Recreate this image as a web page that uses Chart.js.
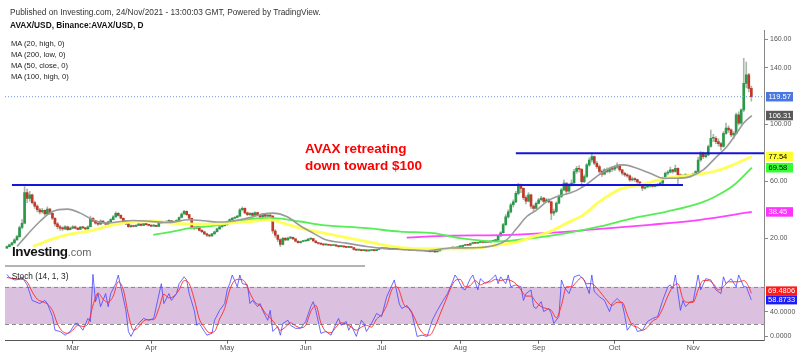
<!DOCTYPE html>
<html><head><meta charset="utf-8">
<script src="https://cdn.jsdelivr.net/npm/chart.js@4.4.0/dist/chart.umd.min.js"></script>
<style>
html,body{margin:0;padding:0;background:#fff;}
#wrap{position:relative;width:800px;height:356px;overflow:hidden;font-family:"Liberation Sans",Arial,sans-serif;background:#fff;}
canvas{position:absolute;left:0;}
#c1{top:0;}
#c2{top:266px;}
.t{position:absolute;white-space:nowrap;line-height:1;}
</style></head><body>
<div id="wrap">
<canvas id="c1" width="800" height="272"></canvas>
<canvas id="c2" width="800" height="90"></canvas>
<div class="t" style="left:10px;top:7.6px;font-size:8.3px;color:#333">Published on Investing.com, 24/Nov/2021 - 13:00:03 GMT, Powered by TradingView.</div>
<div class="t" style="left:10px;top:20.9px;font-size:8.3px;font-weight:bold;color:#111">AVAX/USD, Binance:AVAX/USD, D</div>
<div class="t" style="left:11px;top:39.6px;font-size:7.6px;color:#222">MA (20, high, 0)</div>
<div class="t" style="left:11px;top:50.6px;font-size:7.6px;color:#222">MA (200, low, 0)</div>
<div class="t" style="left:11px;top:62px;font-size:7.6px;color:#222">MA (50, close, 0)</div>
<div class="t" style="left:11px;top:73px;font-size:7.6px;color:#222">MA (100, high, 0)</div>
<div class="t" style="left:305px;top:140px;text-align:left;font-size:13.5px;font-weight:bold;color:#ff0000;line-height:17px">AVAX retreating<br>down toward $100</div>
<div class="t" style="left:12px;top:245px;font-size:13.5px;font-weight:bold;color:#111;letter-spacing:-0.4px">Investing<span style="font-weight:normal;font-size:11px;color:#666;letter-spacing:0">.com</span></div>
<div style="position:absolute;left:5px;top:265px;width:360px;height:1.5px;background:#b4b4b4"></div>
<div class="t" style="left:11.7px;top:271.6px;font-size:8.3px;color:#222">Stoch (14, 1, 3)</div>
</div>
<script>
// ---------- data ----------
const firstDay = 2;          // day index (0 = 1 Feb 2021) of first candle
const firstOpen = 13.0;
const closes = [
14.0,15.2,16.6,18.8,21.0,27.5,30.5,52.0,48.0,50.5,
45.0,42.5,40.0,38.5,39.5,37.0,40.5,37.5,34.0,30.0,
28.0,27.0,26.5,28.0,26.0,27.0,28.0,27.0,26.2,27.8,
27.2,26.5,28.0,34.0,32.0,30.5,29.8,32.0,30.8,29.8,
31.5,33.0,35.0,37.5,36.0,34.0,32.0,30.0,28.0,28.8,
28.2,29.0,29.8,29.0,30.0,29.5,29.0,28.5,29.0,28.3,
30.5,31.5,30.8,31.8,32.2,31.0,31.8,32.5,34.5,37.0,
38.8,36.5,34.0,27.5,27.0,28.0,25.5,24.5,23.0,22.0,
21.5,23.0,24.5,26.5,28.0,28.8,29.5,31.5,33.0,34.0,
34.5,35.5,40.0,41.0,37.8,36.5,37.5,36.0,38.0,36.5,
35.0,37.0,35.5,36.0,35.5,25.0,22.0,19.0,15.5,19.8,
18.8,20.0,20.5,19.5,17.8,16.8,17.6,18.0,18.2,19.3,
19.6,18.0,16.8,16.2,15.8,15.2,15.5,15.0,14.8,15.0,
14.5,14.0,14.2,13.8,13.5,14.0,13.4,12.0,11.6,11.8,
11.2,11.5,11.0,11.3,11.6,11.2,12.0,12.6,13.0,12.5,
12.8,12.3,12.5,13.0,12.6,12.2,12.4,11.8,12.0,11.6,
11.9,11.4,11.2,11.6,11.3,11.0,10.8,10.4,10.6,10.3,
11.0,11.8,12.2,12.0,12.6,13.0,13.4,13.0,13.8,14.2,
14.8,15.3,15.0,16.2,16.8,16.4,17.0,17.3,16.9,17.6,
17.2,17.8,18.2,18.6,21.5,23.8,29.5,35.0,38.5,43.5,
45.5,51.5,56.5,55.0,48.5,46.0,50.5,42.5,41.0,44.5,
47.0,48.2,45.8,47.0,45.5,37.6,38.8,44.6,49.3,54.0,
58.7,53.0,57.5,58.8,66.9,69.2,68.5,59.8,63.4,71.6,
75.0,77.5,72.7,70.4,67.0,65.0,68.0,67.0,69.0,68.5,
70.0,71.5,68.0,65.7,64.5,63.8,61.0,61.8,61.2,59.5,
57.5,55.2,56.0,56.5,57.0,56.4,57.2,57.8,58.7,62.2,
65.7,66.5,68.0,66.9,69.2,64.5,63.4,64.0,64.5,63.4,
64.5,65.0,66.9,75.0,79.8,77.4,78.6,84.5,90.3,90.3,
88.0,86.5,84.5,93.8,97.4,96.2,92.7,93.8,106.8,100.9,
110.3,129.0,135.0,125.5,119.57];
const highs = [
14.6,15.8,17.2,19.6,22.0,28.5,33.0,56.3,54.5,53.0,
51.0,46.0,43.5,41.0,41.0,40.0,42.0,41.0,38.0,34.5,
31.0,29.0,28.0,28.8,28.5,27.8,28.8,28.6,27.5,28.3,
28.3,27.6,28.6,35.5,34.5,32.5,31.0,32.8,32.4,31.2,
32.0,33.8,35.8,38.5,38.0,36.4,34.3,32.4,30.4,29.4,
29.2,29.5,30.4,30.0,30.5,30.4,29.8,29.4,29.5,29.2,
31.0,32.2,31.8,32.3,32.8,32.5,32.2,33.0,35.0,37.8,
39.5,39.2,36.8,34.2,28.5,28.5,28.3,26.0,25.0,23.5,
22.6,23.4,25.0,27.0,28.6,29.4,30.0,32.0,33.6,34.6,
35.2,36.0,40.8,42.0,41.3,38.4,38.0,38.0,38.6,38.4,
36.8,37.5,37.3,36.6,36.5,35.8,26.0,22.5,19.5,20.5,
20.5,20.8,21.2,20.8,19.7,18.2,18.0,18.5,18.6,19.8,
20.2,19.8,18.2,17.0,16.5,16.0,15.8,15.8,15.3,15.3,
15.2,14.7,14.5,14.4,14.0,14.3,14.1,13.5,12.3,12.1,
11.9,11.8,11.6,11.6,11.9,11.8,12.3,12.9,13.4,13.1,
13.1,12.9,12.8,13.3,13.1,12.7,12.7,12.5,12.2,12.1,
12.1,12.0,11.6,11.8,11.7,11.4,11.1,10.9,10.8,10.7,
11.2,12.0,12.5,12.4,12.8,13.3,13.8,13.6,14.0,14.6,
15.1,15.6,15.5,16.5,17.1,17.0,17.3,17.7,17.5,17.9,
17.8,18.1,18.6,19.0,22.0,24.6,30.5,36.5,40.0,44.5,
47.0,53.0,58.5,58.0,55.5,50.0,52.0,51.0,43.5,45.5,
48.0,49.5,48.8,48.0,47.8,46.0,40.5,45.5,50.5,55.0,
61.0,59.0,58.5,61.0,68.5,70.5,71.0,69.0,64.5,72.5,
76.5,80.0,78.0,74.0,71.5,68.0,69.0,69.5,70.0,70.5,
71.0,73.0,72.0,68.5,66.5,65.5,64.5,63.0,62.5,61.5,
60.0,58.0,56.8,57.5,58.0,57.6,58.0,58.5,59.5,63.0,
66.5,67.5,70.0,68.5,71.5,69.5,65.2,64.8,65.5,65.0,
65.0,65.8,67.5,77.0,81.0,80.5,80.0,85.5,96.0,93.0,
91.5,90.0,87.5,95.0,101.0,99.0,97.0,95.0,108.0,109.0,
111.0,146.6,144.0,136.0,127.0];
const lows = [
12.8,13.8,15.0,16.4,18.5,20.5,26.5,30.0,45.0,46.0,
44.0,41.0,38.5,37.0,37.5,36.0,36.5,36.5,33.0,28.5,
26.5,25.5,25.5,26.0,25.5,25.8,26.5,26.5,25.8,26.0,
26.8,26.0,26.3,27.8,31.5,29.8,29.0,29.5,30.2,29.2,
29.5,31.2,32.8,34.8,35.5,33.5,31.5,29.5,27.5,27.6,
27.8,28.0,28.8,28.6,28.8,29.2,28.6,28.1,28.2,28.0,
28.2,30.2,30.4,30.6,31.5,30.6,30.8,31.5,32.3,34.2,
36.8,36.0,33.5,26.5,26.0,26.5,25.0,23.8,22.5,21.0,
20.8,21.2,22.8,24.2,26.2,27.6,28.4,29.2,31.2,32.5,
33.6,34.2,35.2,39.2,37.0,35.8,36.0,35.4,35.8,36.0,
34.5,34.8,35.0,35.0,34.8,23.5,20.5,17.5,14.0,15.2,
18.2,18.4,19.6,19.1,17.4,16.4,16.5,17.3,17.7,18.0,
19.0,17.6,16.5,15.8,15.4,14.8,15.0,14.7,14.5,14.6,
14.2,13.7,13.8,13.5,13.2,13.3,13.1,11.6,11.2,11.3,
10.9,11.0,10.7,10.8,11.1,11.0,11.1,11.8,12.4,12.2,
12.3,12.1,12.1,12.3,12.4,12.0,12.0,11.6,11.6,11.4,
11.4,11.2,10.9,11.0,11.1,10.8,10.5,10.1,10.2,10.0,
10.2,10.9,11.6,11.8,11.9,12.4,12.8,12.8,12.9,13.6,
14.0,14.6,14.7,14.9,16.0,16.1,16.2,16.8,16.6,16.8,
17.0,17.1,17.6,18.0,18.4,21.2,23.5,29.0,34.0,37.5,
42.0,45.0,50.5,52.0,47.0,44.0,45.5,41.0,39.0,40.5,
44.0,46.0,45.0,45.2,44.8,33.0,36.0,38.0,44.0,48.5,
53.5,51.0,52.5,56.5,58.0,65.5,66.5,56.0,59.0,62.5,
70.5,73.5,71.5,69.0,65.5,63.5,64.5,66.0,66.0,67.0,
67.5,69.0,67.0,64.5,63.5,62.8,60.0,60.2,60.0,58.5,
56.5,53.5,54.5,55.5,55.8,55.8,56.0,56.5,57.0,58.2,
61.5,64.5,66.0,65.8,66.5,57.5,62.4,62.8,63.2,62.6,
63.0,63.8,64.5,66.5,74.0,76.0,76.5,78.0,84.0,88.0,
86.5,85.0,82.0,84.0,93.0,94.5,91.5,90.0,93.5,99.5,
100.0,109.0,126.0,123.0,116.5];

// moving averages (day index, value)
const ma20Days  = [6,10,15,20,26,31,36,41,47,52,58.5,66,74,80,85,90,98,103,107,112.5,118,123,128,136,144,152,160,168,177,189,195.5,199.4,203.4,207.3,211.3,215.2,219.2,224.4,229.7,234.9,240.2,245.5,250.8,256,261.3,266.5,271.8,277,282.3,286.3,290.2,292.9,296.2];
const ma20Vals  = [14.1,22.3,31.7,38.7,40.4,37.6,32.9,30.6,31.7,32.4,31.8,31.0,32.9,32.2,31.3,31.7,34.5,36.9,37.6,35.2,28.5,23.5,18.8,16.5,14.1,12.5,11.8,11.1,13.0,13.4,15.3,18.8,27.0,35.2,39.9,45.7,49.3,51.7,56.3,63.3,69.2,71.6,69.2,65.7,62.2,62.2,63.3,68.0,77.4,84.4,93.9,100.9,106.31];
const ma50Days  = [12.3,19,25.6,34.8,44,51.9,58.5,66.4,78.3,90.1,98,105.9,111.2,117.8,130.8,144.1,154.6,163.9,177,184.9,196.8,203.4,209.9,216.5,223.1,229.7,236.3,244.2,252,262.6,273.1,281,288.9,296.2];
const ma50Vals  = [14.1,18.8,22.3,25.1,29.4,31.7,32.2,30.6,29.8,30.6,31.7,32.9,30.6,27.0,22.3,17.6,14.1,12.5,12.5,12.5,15.5,17.2,21.1,24.6,30.6,36.4,46.0,54.5,57.5,62.2,64.5,66.9,71.6,77.54];
const ma100Days = [59.8,66.4,74.3,84.9,92.8,102,107.2,117.8,125.7,144.1,157.3,170.4,181,195.5,209.9,223.1,236.3,249.4,262.6,275.7,282,288.9,296.2];
const ma100Vals = [22.3,24.2,27.0,28.9,31.7,34.1,34.1,31.7,29.4,27.0,24.6,23.5,20.0,17.6,20.0,23.5,28.2,34.1,38.7,44.6,49.5,57.0,69.58];
const ma200Days = [159.9,177,196.8,216.5,236.3,256,275.7,296.2];
const ma200Vals = [20.4,21.8,22.1,23.7,26.5,29.4,32.9,38.45];

// horizontal support / resistance lines
const lineDays1 = [4,269];   const lineLevel1 = 57.4;
const lineDays2 = [203,301]; const lineLevel2 = 79.8;
const lastPrice = 119.57;

// price axis ticks and last-value tags
const priceTicks = [20,60,100,140,160];
const tagValues = [119.57,106.31,77.54,69.58,38.45];
const tagColors = ['#4a78e0','#5a5a5a','#ffff33','#33ff33','#ff33ff'];
const tagText   = ['#fff','#fff','#000','#000','#fff'];

// stochastic (day index, value)
const kDays = [2,3,5,7,8,10,12,15,17,18,20,21,23,25,27,29,30,32,34,35,36,37,38,39,41,42,43,45,46,47,49,50,51,53,54,56,58,60,61,63,64,66,67,69,70,72,73,74,76,77,78,80,81,83,84,86,88,89,90,91,93,94,95,97,98,99,101,102,103,105,106,107,109,110,111,113,114,116,118,120,122,123,124,126,128,130,132,133,134,136,137,138,140,142,143,144,146,148,150,152,155,157,158,160,162,164,166,168,170,172,174,176,178,179,180,182,183,185,186,188,189,191,193,195,196,197,199,200,201,203,205,206,207,209,210,211,213,214,216,217,218,220,221,222,224,225,226,228,230,232,233,234,236,238,240,241,243,245,246,247,249,250,251,253,255,257,259,261,263,264,265,266,268,269,270,272,273,275,276,278,280,282,284,285,286,288,290,291,293,294,296];
const kVals = [100,95,91,92,96,83,58,53,58,53,32,10,8,2,8,21,21,10,29,24,100,56,69,48,69,48,69,85,99,80,42,8,0,16,21,29,26,29,48,85,53,69,58,69,85,96,91,69,42,18,21,8,2,5,26,42,53,75,85,99,80,99,85,83,53,58,48,53,42,26,42,8,16,2,21,26,18,13,13,24,48,56,42,5,8,2,21,29,18,24,10,18,0,26,21,8,21,37,32,64,91,52,45,50,37,0,2,0,26,42,56,69,88,99,93,77,75,93,99,75,93,85,91,99,85,96,85,99,80,83,80,58,69,75,48,45,56,40,45,37,21,32,91,80,69,80,96,99,91,69,99,72,64,58,40,53,61,53,34,10,21,18,8,10,24,29,32,58,80,83,77,99,42,58,48,56,56,99,75,93,91,75,69,96,85,93,80,99,80,80,58.87];
const dDays = [2,5,8,10,12,14,16,18,20,22,24,26,28,30,32,34,36,38,40,42,44,46,48,50,52,54,56,58,60,62,64,66,68,70,72,74,76,78,80,82,84,86,88,90,92,94,96,98,100,102,104,106,108,110,112,114,116,118,120,122,124,126,128,130,132,134,136,138,140,142,144,146,148,150,152,154,156,159,161,163,165,167,169,171,173,175,177,179,181,183,185,187,189,191,193,195,197,199,201,203,205,207,209,211,213,215,217,219,221,223,225,227,229,231,233,235,237,239,241,243,245,247,249,251,253,255,257,259,261,263,265,267,269,271,273,275,277,279,281,283,285,287,289,291,293,295,296];
const dVals = [95,93,92,88,72,60,56,52,42,20,8,5,10,18,16,20,50,70,60,55,65,88,75,35,10,15,25,27,27,45,68,62,65,75,90,85,60,28,15,6,8,28,45,75,90,92,88,70,55,50,38,30,20,10,15,22,17,14,18,40,50,22,8,6,15,22,20,15,10,15,18,15,28,35,50,75,80,50,45,30,12,3,2,15,35,55,75,90,92,80,82,90,83,87,88,92,90,92,90,85,75,65,65,55,48,45,42,30,50,80,80,88,95,85,85,78,68,58,50,55,55,35,18,15,10,15,25,30,45,65,80,85,60,55,55,75,90,90,85,75,80,88,88,88,90,80,69.48];
const stochTicks = [0,40];
const stochBand = [20,80];
const stochTags = [69.4806,58.8733];
const stochTagColors = ['#ff1a1a','#1a1aff'];

// x axis: month starts as day index
const monthDays = [28,59,89,120,150,181,212,242,273];
const monthNames = ['Mar','Apr','May','Jun','Jul','Aug','Sep','Oct','Nov'];

// ---------- build ----------
const X_MIN = 1.26, X_MAX = 301;
const UP = '#2a9a4a', DOWN = '#c0392b', WICK = '#a9b8aa';
const body = [], wick = [], bodyCol = [];
closes.forEach((c, i) => {
  const d = firstDay + i;
  const o = i === 0 ? firstOpen : closes[i - 1];
  body.push({x: d, y: [o, c]});
  wick.push({x: d, y: [lows[i], highs[i]]});
  bodyCol.push(c >= o ? UP : DOWN);
});
const pts = (ds, vs) => ds.map((d, i) => ({x: d, y: vs[i]}));
const FONT = "'Liberation Sans', Arial, sans-serif";

function placeTags(ctx, scale, vals, bgs, fgs, fmt, h) {
  const items = vals.map((v, i) => ({y: scale.getPixelForValue(v), v, i}));
  items.sort((a, b) => a.y - b.y);
  for (let k = 1; k < items.length; k++) {
    if (items[k].y - items[k - 1].y < h) items[k].y = items[k - 1].y + h;
  }
  ctx.save();
  ctx.font = '7.5px ' + FONT;
  ctx.textBaseline = 'middle';
  items.forEach(it => {
    ctx.fillStyle = bgs[it.i];
    ctx.fillRect(766, it.y - h / 2, 27, h);
    ctx.fillStyle = fgs[it.i];
    ctx.fillText(fmt(it.v), 768.5, it.y + 0.5);
  });
  ctx.restore();
}

const mainPlugin = {
  id: 'mainExtras',
  afterDraw(chart) {
    const ctx = chart.ctx;
    placeTags(ctx, chart.scales.y, tagValues, tagColors, tagText, v => v.toFixed(2), 9.5);
  }
};

new Chart(document.getElementById('c1'), {
  type: 'bar',
  data: {
    datasets: [
      {type: 'line', data: [{x: X_MIN, y: lastPrice}, {x: X_MAX, y: lastPrice}], borderColor: '#6f8fe6', borderWidth: 1, borderDash: [1, 2], pointRadius: 0, order: 0},
      {type: 'line', data: lineDays1.map(d => ({x: d, y: lineLevel1})), borderColor: '#1414dc', borderWidth: 2, pointRadius: 0, order: 0},
      {type: 'line', data: lineDays2.map(d => ({x: d, y: lineLevel2})), borderColor: '#1414dc', borderWidth: 2, pointRadius: 0, order: 0},
      {type: 'line', data: pts(ma20Days, ma20Vals), borderColor: '#9a9a9a', borderWidth: 1.6, pointRadius: 0, cubicInterpolationMode: 'monotone', order: 1},
      {type: 'line', data: pts(ma50Days, ma50Vals), borderColor: 'rgba(255,255,80,0.95)', borderWidth: 2.8, pointRadius: 0, cubicInterpolationMode: 'monotone', order: 1},
      {type: 'line', data: pts(ma100Days, ma100Vals), borderColor: '#55ee55', borderWidth: 1.8, pointRadius: 0, cubicInterpolationMode: 'monotone', order: 1},
      {type: 'line', data: pts(ma200Days, ma200Vals), borderColor: '#ff44ff', borderWidth: 1.8, pointRadius: 0, cubicInterpolationMode: 'monotone', order: 1},
      {type: 'bar', data: body, backgroundColor: bodyCol, barThickness: 2, grouped: false, minBarLength: 1, order: 2},
      {type: 'bar', data: wick, backgroundColor: WICK, barThickness: 1, grouped: false, order: 3}
    ]
  },
  options: {
    responsive: false, animation: false,
    layout: {padding: {top: 30, left: 5, right: 0, bottom: 6}},
    plugins: {legend: {display: false}, tooltip: {enabled: false}},
    scales: {
      x: {type: 'linear', min: X_MIN, max: X_MAX, offset: false, display: false},
      y: {
        position: 'right', min: 0.51, max: 166.55,
        afterBuildTicks: s => { s.ticks = priceTicks.map(v => ({value: v})); },
        afterFit: s => { s.width = 36; },
        grid: {drawOnChartArea: false, drawTicks: true, tickLength: 4, color: '#888'},
        border: {display: true, color: '#888'},
        ticks: {color: '#555', font: {size: 7, family: FONT}, padding: 2, callback: v => Number(v).toFixed(2)}
      }
    }
  },
  plugins: [mainPlugin]
});

const stochPlugin = {
  id: 'stochExtras',
  beforeDatasetsDraw(chart) {
    const {ctx, chartArea: a, scales: {y}} = chart;
    const y80 = y.getPixelForValue(stochBand[1]), y20 = y.getPixelForValue(stochBand[0]);
    ctx.save();
    ctx.fillStyle = '#dcc0e0';
    ctx.fillRect(a.left, y80, a.right - a.left, y20 - y80);
    ctx.strokeStyle = '#8a8a8a';
    ctx.setLineDash([4, 3]);
    ctx.lineWidth = 1;
    [y80, y20].forEach(py => {
      ctx.beginPath(); ctx.moveTo(a.left, Math.round(py) + 0.5); ctx.lineTo(a.right, Math.round(py) + 0.5); ctx.stroke();
    });
    ctx.restore();
  },
  afterDraw(chart) {
    const {ctx, chartArea: a} = chart;
    ctx.save();
    ctx.strokeStyle = '#888';
    ctx.lineWidth = 1;
    ctx.beginPath(); ctx.moveTo(a.right + 0.5, 0); ctx.lineTo(a.right + 0.5, a.top); ctx.stroke();
    ctx.restore();
    // stacked tags: red above blue
    const y = chart.scales.y;
    const h = 9;
    const yb = y.getPixelForValue(stochTags[1]);
    const yr = Math.min(y.getPixelForValue(stochTags[0]), yb - h);
    ctx.save();
    ctx.font = '7.5px ' + FONT;
    ctx.textBaseline = 'middle';
    [[yr, 0], [yb, 1]].forEach(([py, i]) => {
      ctx.fillStyle = stochTagColors[i];
      ctx.fillRect(766, py - h / 2, 31, h);
      ctx.fillStyle = '#fff';
      ctx.fillText(stochTags[i].toFixed(4), 768, py + 0.5);
    });
    ctx.restore();
  }
};

new Chart(document.getElementById('c2'), {
  type: 'line',
  data: {
    datasets: [
      {data: pts(kDays, kVals), borderColor: 'rgba(70,70,255,0.8)', borderWidth: 1, pointRadius: 0, order: 1},
      {data: pts(dDays, dVals), borderColor: 'rgba(255,40,40,0.9)', borderWidth: 1, pointRadius: 0, cubicInterpolationMode: 'monotone', order: 0}
    ]
  },
  options: {
    responsive: false, animation: false,
    layout: {padding: {top: 6, left: 5, right: 0, bottom: 0}},
    plugins: {legend: {display: false}, tooltip: {enabled: false}},
    scales: {
      x: {
        type: 'linear', min: X_MIN, max: X_MAX, offset: false,
        afterBuildTicks: s => { s.ticks = monthDays.map(v => ({value: v})); },
        afterFit: s => { s.height = 15.3; },
        grid: {drawOnChartArea: false, drawTicks: true, tickLength: 3, color: '#666'},
        border: {display: true, color: '#555'},
        ticks: {color: '#555', font: {size: 7.5, family: FONT}, padding: 0, maxRotation: 0, autoSkip: false,
          callback: v => monthNames[monthDays.indexOf(v)]}
      },
      y: {
        position: 'right', min: -6.9, max: 103.5,
        afterBuildTicks: s => { s.ticks = stochTicks.map(v => ({value: v})); },
        afterFit: s => { s.width = 36; },
        grid: {drawOnChartArea: false, drawTicks: true, tickLength: 4, color: '#888'},
        border: {display: true, color: '#888'},
        ticks: {color: '#555', font: {size: 7, family: FONT}, padding: 2, callback: v => Number(v).toFixed(4)}
      }
    }
  },
  plugins: [stochPlugin]
});
</script>
</body></html>
